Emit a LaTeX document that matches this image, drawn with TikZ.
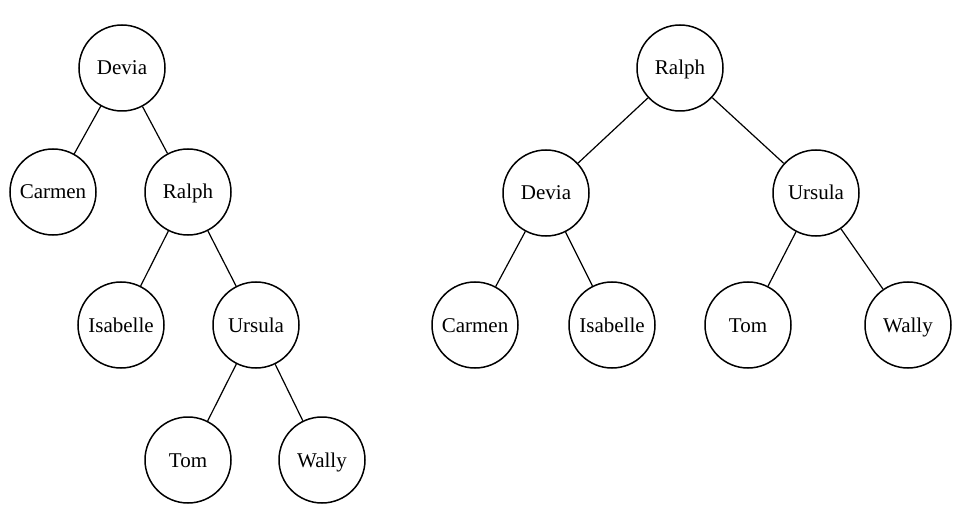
\documentclass[tikz,border=0pt]{standalone}
\usepackage{fontspec}
\setmainfont{Liberation Serif}
\begin{document}
\begin{tikzpicture}[x=1pt,y=-1pt,
  tnode/.style={circle,draw,line width=1.5pt,minimum size=86pt,inner sep=0pt,text height=15pt,text depth=1pt,font=\fontsize{21}{24}\selectfont},
  tedge/.style={line width=1.2pt}]
\useasboundingbox (0,0) rectangle (954,508);
% left tree
\node[tnode] (ld) at (122,68) {Devia};
\node[tnode] (lc) at (53,192) {Carmen};
\node[tnode] (lr) at (188,192) {Ralph};
\node[tnode] (li) at (121,325) {Isabelle};
\node[tnode] (lu) at (256,325) {Ursula};
\node[tnode] (lt) at (188,460) {Tom};
\node[tnode] (lw) at (322,460) {Wally};
\draw[tedge] (ld) -- (lc);
\draw[tedge] (ld) -- (lr);
\draw[tedge] (lr) -- (li);
\draw[tedge] (lr) -- (lu);
\draw[tedge] (lu) -- (lt);
\draw[tedge] (lu) -- (lw);
% right tree
\node[tnode] (rr) at (680,68) {Ralph};
\node[tnode] (rd) at (546,193) {Devia};
\node[tnode] (ru) at (816,193) {Ursula};
\node[tnode] (rc) at (475,325) {Carmen};
\node[tnode] (ri) at (612,325) {Isabelle};
\node[tnode] (rt) at (748,325) {Tom};
\node[tnode] (rw) at (908,325) {Wally};
\draw[tedge] (rr) -- (rd);
\draw[tedge] (rr) -- (ru);
\draw[tedge] (rd) -- (rc);
\draw[tedge] (rd) -- (ri);
\draw[tedge] (ru) -- (rt);
\draw[tedge] (ru) -- (rw);
\end{tikzpicture}
\end{document}
